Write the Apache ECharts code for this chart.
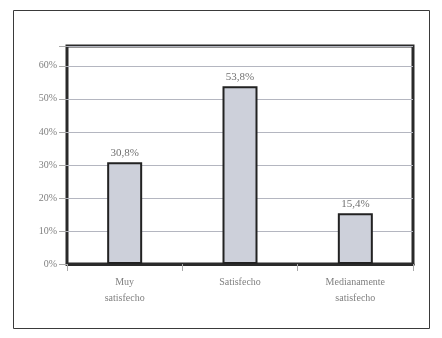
<!DOCTYPE html>
<html>
<head>
<meta charset="utf-8">
<script src="https://cdn.jsdelivr.net/npm/echarts@6/dist/echarts.min.js"></script>
<style>
  html, body { margin: 0; padding: 0; background: #fff; }
  #chart { width: 442px; height: 338px; }
</style>
</head>
<body>
<div id="chart"></div>
<script>
var categories = ['Muy\nsatisfecho', 'Satisfecho', 'Medianamente\nsatisfecho']
var values = [30.8, 53.8, 15.4]
var yTicks = [0, 10, 20, 30, 40, 50, 60]

var myChart = echarts.init(document.getElementById('chart'))
var option = {
  animation: false,
  textStyle: { fontFamily: 'Liberation Serif' },
  graphic: [{
    type: 'rect',
    shape: { x: 13.5, y: 10.5, width: 416, height: 318 },
    style: { fill: 'none', stroke: '#3a3a3a', lineWidth: 1 },
    z: -1
  }],
  grid: {
    left: 67,
    top: 46,
    right: 29,
    bottom: 74,
    show: true,
    borderColor: '#2a2a2a',
    borderWidth: 3,
    backgroundColor: '#fff'
  },
  xAxis: {
    type: 'category',
    data: categories,
    axisLine: { lineStyle: { color: '#2a2a2a', width: 3 } },
    axisTick: { show: true, length: 7, lineStyle: { color: '#aaa' } },
    axisLabel: {
      color: '#808080',
      fontSize: 10,
      margin: 10,
      lineHeight: 16,
      fontFamily: 'Liberation Serif'
    }
  },
  yAxis: {
    type: 'value',
    min: 0,
    max: 66,
    interval: 10,
    axisLine: { show: false },
    axisTick: { show: true, length: 8, lineStyle: { color: '#aaa' } },
    splitLine: { lineStyle: { color: '#b4b6c0', width: 1 } },
    axisLabel: {
      color: '#808080',
      fontSize: 10,
      margin: 10,
      fontFamily: 'Liberation Serif',
      formatter: function (v) {
        return yTicks.indexOf(v) >= 0 ? v + '%' : ''
      }
    }
  },
  series: [{
    type: 'bar',
    data: values,
    barWidth: 35,
    itemStyle: {
      color: '#cdd0da',
      borderColor: '#222',
      borderWidth: 2
    },
    label: {
      show: true,
      position: 'top',
      distance: 4,
      color: '#707070',
      fontSize: 11,
      fontFamily: 'Liberation Serif',
      formatter: function (p) {
        return p.value.toFixed(1).replace('.', ',') + '%'
      }
    }
  }]
}
myChart.setOption(option)
</script>
</body>
</html>
